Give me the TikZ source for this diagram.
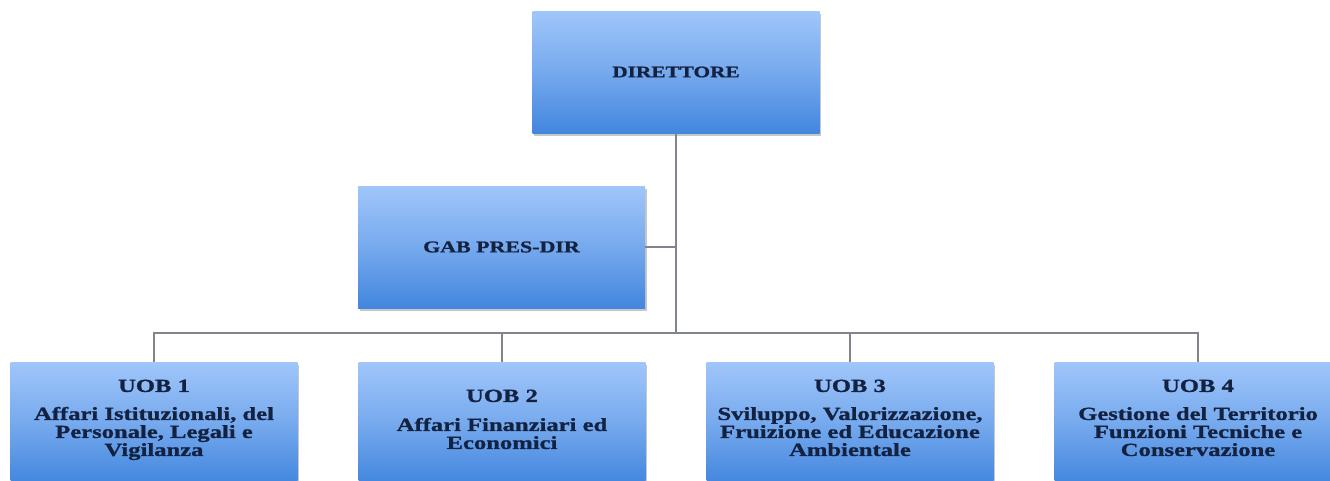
\documentclass[tikz,border=0pt]{standalone}
\usepackage{fontspec}
\setmainfont{Liberation Serif}[FakeStretch=1.33, BoldFeatures={FakeBold=1.1}]
\usetikzlibrary{shadows}
\definecolor{boxtop}{RGB}{160,198,250}
\definecolor{boxbot}{RGB}{66,134,222}
\definecolor{txt}{RGB}{20,34,66}
\definecolor{ln}{RGB}{128,132,140}
\begin{document}
\begin{tikzpicture}[x=1pt,y=-1pt,
  unit/.style={rectangle, minimum width=287pt, minimum height=122pt, inner sep=0pt,
    top color=boxtop, bottom color=boxbot, middle color=boxtop!55!boxbot,
    drop shadow={shadow xshift=1.5pt, shadow yshift=-2.5pt, fill=black!40, opacity=0.55},
    text=txt, align=center},
  lbl/.style={text=txt, align=center, inner sep=0pt, anchor=north,
    font=\bfseries\fontsize{18.5}{18}\selectfont},
  conn/.style={draw=ln, line width=1.4pt}]
\useasboundingbox (0,0) rectangle (1330,480);
\node[unit, font=\bfseries\fontsize{16}{18}\selectfont] (dir) at (676,72) {DIRETTORE};
\node[unit, font=\bfseries\fontsize{16.5}{18}\selectfont] (gab) at (501.5,247) {GAB PRES-DIR};
\node[unit, anchor=north] (u1) at (154,362) {};
\node[unit, anchor=north] (u2) at (502,362) {};
\node[unit, anchor=north] (u3) at (850,362) {};
\node[unit, anchor=north] (u4) at (1198,362) {};
\node[lbl] (u1t) at (154,379.5) {UOB 1\\[10pt]Affari Istituzionali, del\\Personale, Legali e\\Vigilanza};
\node[lbl] (u2t) at (502,389.5) {UOB 2\\[11pt]Affari Finanziari ed\\Economici};
\node[lbl] (u3t) at (850,379.5) {UOB 3\\[10pt]Sviluppo, Valorizzazione,\\Fruizione ed Educazione\\Ambientale};
\node[lbl] (u4t) at (1198,379.5) {UOB 4\\[10pt]Gestione del Territorio\\Funzioni Tecniche e\\Conservazione};
\coordinate (hub) at (676,333);
\coordinate (gj) at (676,247);
\draw[conn] (dir.south) -- (hub);
\draw[conn] (gab.east) -- (gj);
\draw[conn] (u1.north) -- (u1.north |- hub) -- (u4.north |- hub) -- (u4.north);
\draw[conn] (u2.north) -- (u2.north |- hub);
\draw[conn] (u3.north) -- (u3.north |- hub);
\end{tikzpicture}
\end{document}
